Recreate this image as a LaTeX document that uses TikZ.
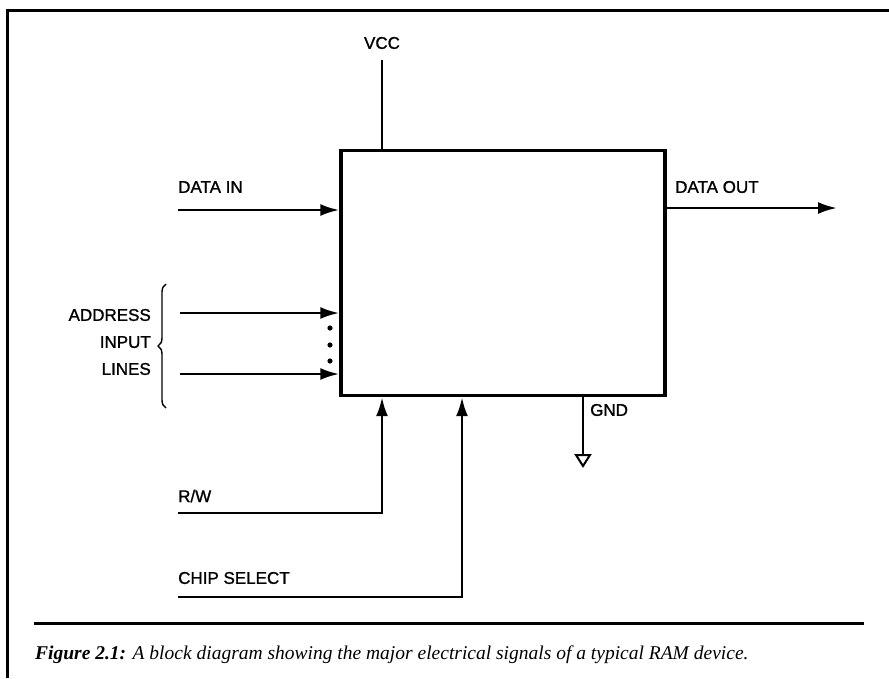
\documentclass[tikz,border=0pt]{standalone}
\usepackage{fontspec}
\setmainfont{Liberation Sans}
\newfontfamily\lblfont{Liberation Sans}[FakeBold=1.2]
\newfontfamily\capfont{Liberation Serif}
\usetikzlibrary{arrows.meta,decorations.pathreplacing}
\begin{document}
\begin{tikzpicture}[x=1pt,y=-1pt,
  lbl/.style={font=\lblfont\fontsize{17}{27}\selectfont, inner sep=0pt},
  wire/.style={line width=2.6pt},
  arr/.style={wire,-{Latex[length=19pt,width=12pt]}},
  frameline/.style={line width=3pt}]
\useasboundingbox (0,0) rectangle (889,678);
\fill[white] (0,0) rectangle (889,678);
% frame
\draw[frameline] (7,678) -- (7,10) -- (889,10);
% RAM block
\node[draw, line width=3.4pt, minimum width=324pt, minimum height=245pt, inner sep=0pt] (ram) at (503,273) {};
% VCC
\node[lbl] (vcct) at (382,43) {VCC};
\coordinate (vcc) at (382,60);
\draw[wire] (vcc) -- (vcc |- ram.north);
% DATA IN
\node[lbl, anchor=west] (dint) at (178,187) {DATA IN};
\coordinate (din) at (178,210);
\draw[arr] (din) -- (din -| ram.west);
% DATA OUT
\node[lbl, anchor=west] (doutt) at (675,187) {DATA OUT};
\coordinate (dout) at (665,208);
\coordinate (doute) at (837,208);
\draw[arr] (dout) -- (doute);
% Address lines
\node[lbl, align=right, anchor=east] (addr) at (151,342) {ADDRESS\\INPUT\\LINES};
\coordinate (a1) at (180,313);
\coordinate (a2) at (180,374);
\draw[arr] (a1) -- (a1 -| ram.west);
\draw[arr] (a2) -- (a2 -| ram.west);
\foreach \yy in {328,345,361} \fill (330,\yy) circle (2.6pt);
\coordinate (bt) at (166,284);
\coordinate (bb) at (166,408);
\draw[line width=1.4pt, decorate, decoration={brace, amplitude=8pt}] (bb) -- (bt);
% GND
\node[lbl, anchor=west] (gndt) at (590,410) {GND};
\coordinate (gnd) at (583,455);
\draw[wire] (gnd |- ram.south) -- (gnd);
\draw[line width=2pt, line join=miter] (gnd) ++(-7,0) -- ++(14,0) -- ++(-7,11) -- cycle;
% R/W
\node[lbl, anchor=west] (rwt) at (178,496) {R/W};
\coordinate (rw) at (178,513);
\coordinate (rwc) at (382,513);
\draw[arr] (rw) -- (rwc) -- (rwc |- ram.south);
% CHIP SELECT
\node[lbl, anchor=west] (cst) at (178,578) {CHIP SELECT};
\coordinate (cs) at (178,597);
\coordinate (csc) at (462,597);
\draw[arr] (cs) -- (csc) -- (csc |- ram.south);
% caption
\draw[frameline] (34,623) -- (864,623);
\node[anchor=west, inner sep=0pt, font=\capfont\itshape\fontsize{19.5}{22}\selectfont] (cap) at (35,655)
  {\textbf{Figure 2.1:} A block diagram showing the major electrical signals of a typical RAM device.};
\end{tikzpicture}
\end{document}
